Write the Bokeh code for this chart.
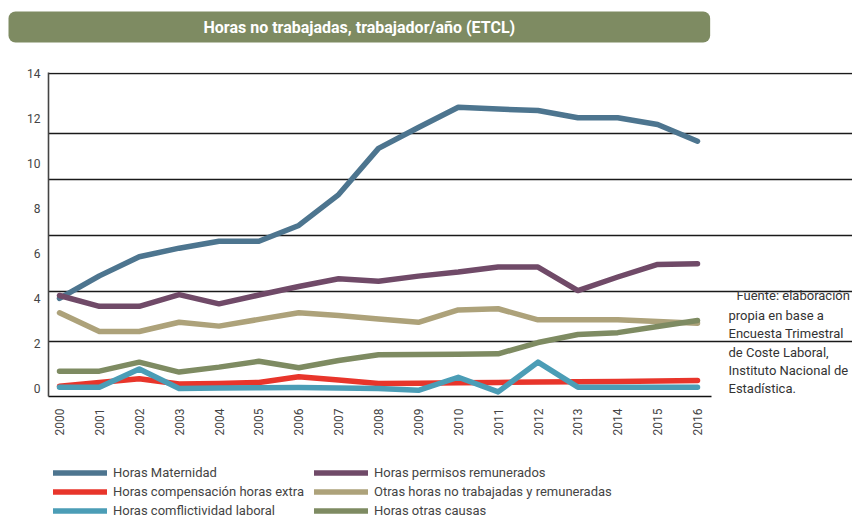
from math import pi
from bokeh.plotting import figure
from bokeh.layouts import column
from bokeh.models import (Range1d, FixedTicker, Legend, LegendItem, Label,
                          ColumnDataSource, Title)
from bokeh.embed import file_html
from bokeh.resources import INLINE

# ---------------- data ----------------
years = [2000, 2001, 2002, 2003, 2004, 2005, 2006, 2007, 2008,
         2009, 2010, 2011, 2012, 2013, 2014, 2015, 2016]
year_labels = [str(y) for y in years]
y_ticks = [0, 2, 4, 6, 8, 10, 12, 14]
grid_levels = [2.10, 4.32, 6.81, 9.27, 11.34, 14.0]

maternidad = [4.0, 5.0, 5.85, 6.23, 6.54, 6.54, 7.24, 8.61, 10.66,
              11.59, 12.49, 12.41, 12.34, 12.02, 12.02, 11.72, 10.98]
permisos = [4.13, 3.65, 3.65, 4.17, 3.76, 4.15, 4.53, 4.87, 4.76,
            4.99, 5.17, 5.39, 5.39, 4.35, 4.95, 5.51, 5.54]
compensacion = [0.10, 0.27, 0.43, 0.20, 0.22, 0.27, 0.52, 0.38, 0.22,
                0.23, 0.25, 0.27, 0.29, 0.30, 0.31, 0.33, 0.36]
conflictividad = [0.06, 0.06, 0.87, 0.0, 0.02, 0.03, 0.04, 0.02, 0.0,
                  -0.08, 0.50, -0.15, 1.17, 0.06, 0.06, 0.06, 0.06]
otras_remun = [3.36, 2.53, 2.53, 2.94, 2.77, 3.07, 3.36, 3.24, 3.09,
               2.94, 3.49, 3.54, 3.05, 3.05, 3.05, 2.98, 2.90]
otras_causas = [0.77, 0.77, 1.17, 0.73, 0.95, 1.21, 0.92, 1.24, 1.50,
                1.51, 1.52, 1.54, 2.04, 2.40, 2.48, 2.75, 3.02]

series_names = ["Horas Maternidad", "Horas permisos remunerados",
                "Horas compensación horas extra", "Horas comflictividad laboral",
                "Otras horas no trabajadas y remuneradas", "Horas otras causas"]
series_values = [maternidad, permisos, compensacion, conflictividad,
                 otras_remun, otras_causas]
series_colors = ["#4d758f", "#704a68", "#e8352b", "#4b9db6", "#ada27a", "#7e8b62"]

title_text = "Horas no trabajadas, trabajador/año (ETCL)"
source_lines = ["Fuente: elaboración", "propia en base a", "Encuesta Trimestral",
                "de Coste Laboral,", "Instituto Nacional de", "Estadística."]
legend_order = ["Horas Maternidad", "Horas compensación horas extra",
                "Horas comflictividad laboral", "Horas permisos remunerados",
                "Otras horas no trabajadas y remuneradas", "Horas otras causas"]

FONT = "Roboto"
X0, X1 = 1999.724, 2016.351      # extent of the drawn chart area
W = 852


def blank(height):
    f = figure(width=W, height=height, output_backend="svg", toolbar_location=None,
               x_axis_type=None, y_axis_type=None,
               x_range=Range1d(0, 1), y_range=Range1d(0, 1),
               min_border_left=0, min_border_right=0, min_border_top=0,
               min_border_bottom=0)
    f.outline_line_color = None
    f.xgrid.grid_line_color = None
    f.ygrid.grid_line_color = None
    f.background_fill_color = "white"
    f.border_fill_color = "white"
    return f


# ---------------- banner (title of a slim top panel) ----------------
top = blank(52)
top.title = Title(text=title_text, align="left", offset=-40, standoff=20,
                  text_font=FONT, text_font_style="bold", text_font_size="16px",
                  text_color="white", background_fill_color="#7e8b62",
                  border_line_color=None, padding=(195, 6), border_radius=7)

# ---------------- main chart ----------------
p = figure(width=W, height=403, output_backend="svg", toolbar_location=None,
           x_range=Range1d(X0, 2019.887), y_range=Range1d(-0.355, 14.03),
           min_border_left=48, min_border_right=0, min_border_top=20,
           min_border_bottom=59)
p.outline_line_color = None
p.background_fill_color = "white"
p.border_fill_color = "white"

for name, vals, col in zip(series_names, series_values, series_colors):
    src = ColumnDataSource(dict(x=years, y=vals))
    p.line("x", "y", source=src, line_color=col, line_width=5.5,
           line_cap="round", line_join="round")

p.xaxis.ticker = FixedTicker(ticks=years)
p.xaxis.bounds = (X0, X1)
p.xaxis.major_label_overrides = {y: s for y, s in zip(years, year_labels)}
p.xaxis.major_label_orientation = pi / 2
p.xaxis.major_tick_in = 0
p.xaxis.major_tick_out = 0
p.xaxis.minor_tick_line_color = None
p.xaxis.major_label_standoff = 12
p.xaxis.axis_line_color = "#111111"
p.xaxis.axis_line_width = 1.6
p.xaxis.major_label_text_font = FONT
p.xaxis.major_label_text_font_size = "12px"
p.xaxis.major_label_text_color = "#444444"

p.yaxis.ticker = FixedTicker(ticks=y_ticks)
p.yaxis.major_tick_in = 0
p.yaxis.major_tick_out = 0
p.yaxis.minor_tick_line_color = None
p.yaxis.major_label_standoff = 8
p.yaxis.axis_line_color = "#444444"
p.yaxis.axis_line_width = 1.6
p.yaxis.major_label_text_font = FONT
p.yaxis.major_label_text_font_size = "12px"
p.yaxis.major_label_text_color = "#444444"

p.xgrid.grid_line_color = None
p.ygrid.ticker = FixedTicker(ticks=grid_levels)
p.ygrid.bounds = (X0, X1)
p.ygrid.grid_line_color = "#1a1a1a"
p.ygrid.grid_line_width = 1.3

src_y = [101, 81, 62.7, 44.3, 26, 7.7]
src_x = [688, 680, 680, 680, 680, 680]
for line, xx, yy in zip(source_lines, src_x, src_y):
    p.add_layout(Label(x=xx, y=yy, x_units="screen", y_units="screen",
                       text=line, text_align="left", text_baseline="middle",
                       text_font=FONT, text_font_size="13px",
                       text_color="#333333"))

# ---------------- legend ----------------
leg = blank(63)
leg_r = {}
for name, vals, col in zip(series_names, series_values, series_colors):
    src = ColumnDataSource(dict(x=years, y=vals))   # outside this panel's range: only legend swatches show
    leg_r[name] = leg.line("x", "y", source=src, line_color=col, line_width=5.5,
                           line_cap="round")
legend = Legend(items=[LegendItem(label=n, renderers=[leg_r[n]]) for n in legend_order],
                location=(5, -1.5), orientation="vertical", nrows=3,
                glyph_width=54, glyph_height=19, label_height=19, label_width=201,
                label_standoff=6, spacing=0, padding=0, margin=0,
                border_line_color=None, background_fill_alpha=0,
                label_text_font=FONT, label_text_font_size="13px",
                label_text_color="#444444")
leg.add_layout(legend)

layout = column(top, p, leg, spacing=0)
open("out.html", "w").write(file_html(layout, INLINE))
